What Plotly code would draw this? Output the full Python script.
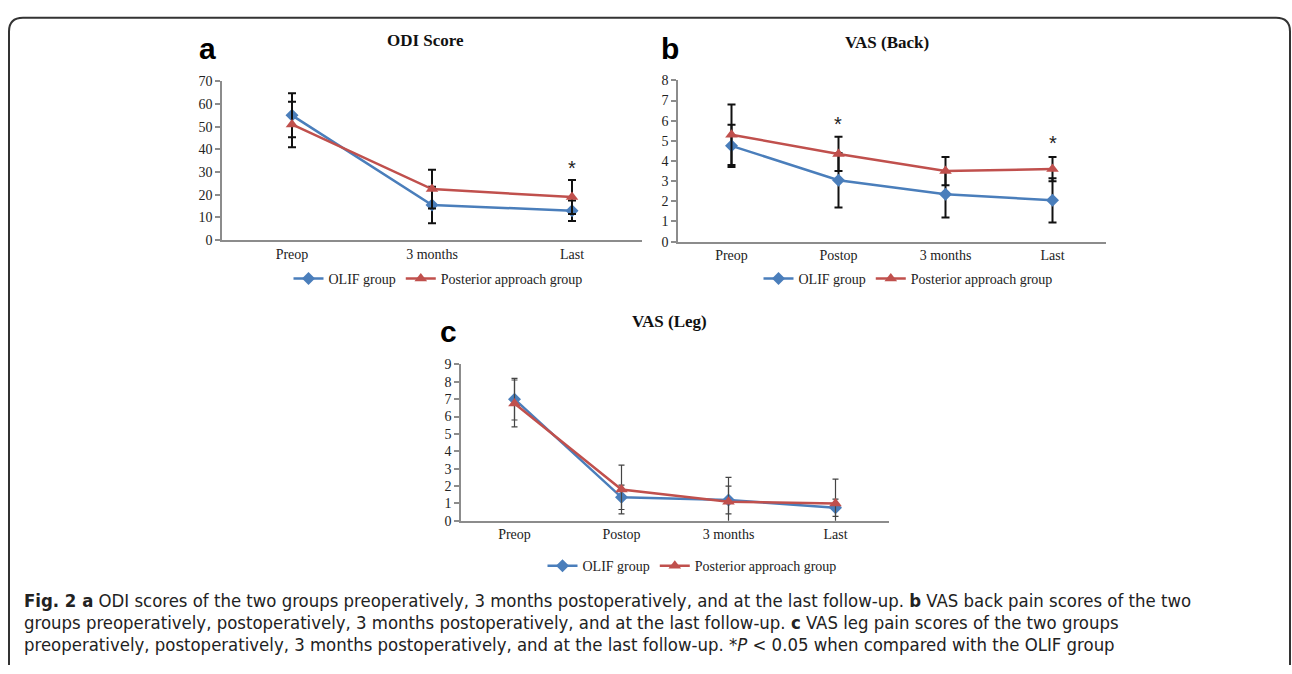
import plotly.graph_objects as go

W, H = 1292, 674

# ---------------- data ----------------
cats_a = ["Preop", "3 months", "Last"]
odi_olif = [55.0, 15.5, 13.0]
odi_olif_err = [9.7, 8.0, 4.5]
odi_post = [51.0, 22.5, 19.0]
odi_post_err = [10.0, 8.5, 7.5]
odi_star = [None, None, 32.0]

cats_bc = ["Preop", "Postop", "3 months", "Last"]
back_olif = [4.75, 3.05, 2.35, 2.05]
back_olif_err = [1.05, 1.35, 1.15, 1.1]
back_post = [5.3, 4.35, 3.5, 3.6]
back_post_err = [1.5, 0.85, 0.7, 0.6]
back_star = [None, 5.85, None, 4.9]

leg_olif = [7.0, 1.35, 1.2, 0.75]
leg_olif_err = [1.2, 0.7, 0.8, 0.5]
leg_post = [6.75, 1.8, 1.1, 1.0]
leg_post_err = [1.35, 1.4, 1.4, 1.4]

names = ["OLIF group", "Posterior approach group"]

BLUE = "#4A7EBB"
RED = "#C0504D"
AXC = "#8C8C8C"
SERIF = "Liberation Serif, Times New Roman, serif"

def px(x):
    return x / W

def py(y):
    return 1 - y / H

fig = go.Figure()

panels = [
    ("", cats_a, odi_olif, odi_olif_err, odi_post, odi_post_err, (222, 642), (76, 238.5), 70, 10, "legend", (2, "#111111", 4)),
    ("2", cats_bc, back_olif, back_olif_err, back_post, back_post_err, (678, 1106), (75, 240), 8, 1, "legend2", (2, "#111111", 4)),
    ("3", cats_bc, leg_olif, leg_olif_err, leg_post, leg_post_err, (461, 889), (365.5, 525.5), 9, 1, "legend3", (1.2, "#444444", 3)),
]

for key, cats, o, oe, p, pe, xd, yd, ymax, dt, lg, es in panels:
    xs = list(range(len(cats)))
    th, ec, cw = es
    fig.add_trace(go.Scatter(
        x=xs, y=o, mode="lines+markers", name=names[0],
        line=dict(color=BLUE, width=2.5),
        marker=dict(symbol="diamond", size=10, color=BLUE),
        error_y=dict(type="data", array=oe, visible=True, color=ec, thickness=th, width=cw),
        xaxis="x" + key, yaxis="y" + key, legend=lg, cliponaxis=True,
    ))
    fig.add_trace(go.Scatter(
        x=xs, y=p, mode="lines+markers", name=names[1],
        line=dict(color=RED, width=2.5),
        marker=dict(symbol="triangle-up", size=11, color=RED),
        error_y=dict(type="data", array=pe, visible=True, color=ec, thickness=th, width=cw),
        xaxis="x" + key, yaxis="y" + key, legend=lg, cliponaxis=True,
    ))
    fig.update_layout(**{
        "xaxis" + key: dict(
            domain=[px(xd[0]), px(xd[1])], anchor="y" + key,
            range=[-0.5, len(cats) - 0.5], tickmode="array",
            tickvals=xs, ticktext=cats, showgrid=False, zeroline=False,
            showline=True, linecolor=AXC, linewidth=1.5, ticks="",
            tickfont=dict(family=SERIF, size=14, color="#222"),
        ),
        "yaxis" + key: dict(
            domain=[py(yd[1]), py(yd[0])], anchor="x" + key,
            range=[0, ymax], dtick=dt, tick0=0, showgrid=False, zeroline=False,
            showline=True, linecolor=AXC, linewidth=1.5, ticks="outside",
            ticklen=5, tickcolor=AXC, tickwidth=1.5,
            tickfont=dict(family=SERIF, size=14, color="#222"),
        ),
    })

legend_common = dict(orientation="h", xanchor="center", yanchor="middle",
                     bgcolor="rgba(0,0,0,0)", font=dict(family=SERIF, size=14, color="#222"),
                     itemwidth=30, tracegroupgap=0)
fig.update_layout(
    legend=dict(x=px(438), y=py(278), **legend_common),
    legend2=dict(x=px(908), y=py(278), **legend_common),
    legend3=dict(x=px(692), y=py(572), **legend_common),
)

ann = []
for xs_key, cats, stars in [("", cats_a, odi_star), ("2", cats_bc, back_star)]:
    for i, s in enumerate(stars):
        if s is not None:
            ann.append(dict(x=i, y=s, xref="x" + xs_key, yref="y" + xs_key, text="*",
                            showarrow=False, font=dict(family="Liberation Sans, Arial", size=20, color="#222")))

for t, x, y in [("ODI Score", 425, 34), ("VAS (Back)", 887, 36), ("VAS (Leg)", 669, 322)]:
    ann.append(dict(x=px(x), y=py(y), xref="paper", yref="paper", text="<b>" + t + "</b>",
                    showarrow=False, xanchor="center", yanchor="middle",
                    font=dict(family=SERIF, size=17, color="#111")))
for t, x, y in [("a", 207, 42), ("b", 670, 42), ("c", 448, 332)]:
    ann.append(dict(x=px(x), y=py(y), xref="paper", yref="paper", text="<b>" + t + "</b>",
                    showarrow=False, xanchor="center", yanchor="middle",
                    font=dict(family="Liberation Sans, Arial", size=30, color="#000")))

CAP = "DejaVu Sans Condensed, Liberation Sans Narrow, Arial Narrow, sans-serif"
cap_lines = [
    "<b>Fig. 2 a</b> ODI scores of the two groups preoperatively, 3 months postoperatively, and at the last follow-up. <b>b</b> VAS back pain scores of the two",
    "groups preoperatively, postoperatively, 3 months postoperatively, and at the last follow-up. <b>c</b> VAS leg pain scores of the two groups",
    "preoperatively, postoperatively, 3 months postoperatively, and at the last follow-up. *<i>P</i> &lt; 0.05 when compared with the OLIF group",
]
for i, line in enumerate(cap_lines):
    ann.append(dict(x=px(22), y=py(607 + 22.5 * i), xref="paper", yref="paper", text=line,
                    showarrow=False, xanchor="left", yanchor="middle", align="left",
                    font=dict(family=CAP, size=18.4, color="#222")))

# rounded border (kept inside the page)
x0, x1, y0, r = 9, 1290, 11, 14
yb = H - 1
path = (f"M {px(x0)},{py(yb)} L {px(x0)},{py(y0 + r)} "
        f"Q {px(x0)},{py(y0)} {px(x0 + r)},{py(y0)} "
        f"L {px(x1 - r)},{py(y0)} Q {px(x1)},{py(y0)} {px(x1)},{py(y0 + r)} "
        f"L {px(x1)},{py(yb)}")
fig.add_shape(type="path", path=path, xref="paper", yref="paper",
              line=dict(color="#333", width=2))

fig.update_layout(
    width=W, height=H, margin=dict(l=0, r=0, t=0, b=0),
    paper_bgcolor="white", plot_bgcolor="white",
    annotations=ann, showlegend=True,
)

fig.write_html("out.html", config={"displayModeBar": False},
               post_script="document.body.style.margin='0';document.body.style.overflow='hidden';")
